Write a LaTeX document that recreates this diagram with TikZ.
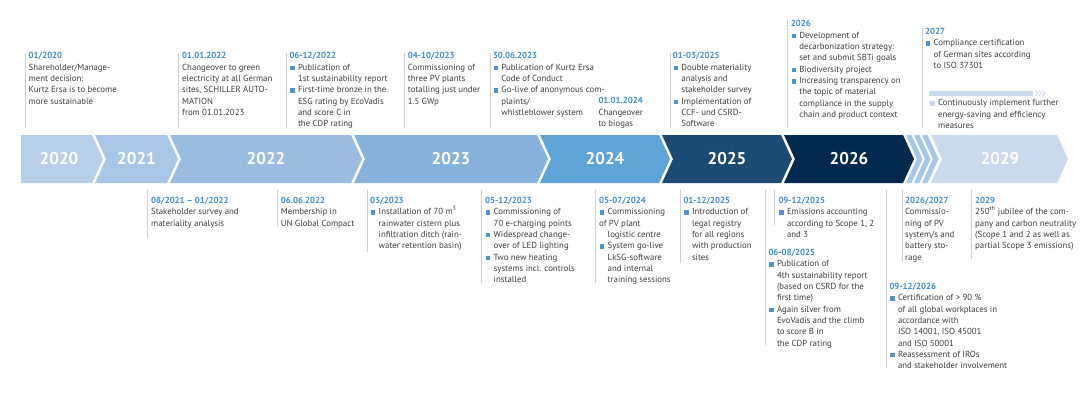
\documentclass[tikz,border=0pt]{standalone}
\usepackage{fontspec}
\setmainfont{PT Sans}
\definecolor{c2020}{HTML}{B7CFE8}
\definecolor{c2021}{HTML}{A8C6E5}
\definecolor{c2022}{HTML}{9ABDE1}
\definecolor{c2023}{HTML}{87B2DC}
\definecolor{c2024}{HTML}{5FA4D6}
\definecolor{c2025}{HTML}{1B4A73}
\definecolor{c2026}{HTML}{022A4F}
\definecolor{cstripe}{HTML}{A5C8EA}
\definecolor{c2029}{HTML}{C9DAEE}
\definecolor{datec}{HTML}{3C8ED1}
\definecolor{bodyc}{HTML}{3D3D3D}
\definecolor{bulc}{HTML}{4E93D2}
\definecolor{linec}{HTML}{CFCFCF}
\newcommand{\dt}[1]{\textcolor{datec}{\bfseries #1}}
\newcommand{\bq}{\makebox[8.5pt][l]{\hspace{0.6pt}\textcolor{bulc}{\rule{4.6pt}{4.6pt}}}}
\newcommand{\bql}{\makebox[8.5pt][l]{\hspace{0.6pt}\textcolor{c2029}{\rule{4.6pt}{4.6pt}}}}
\newcommand{\ii}{\hspace*{8.5pt}}
\tikzset{
  txt/.style={anchor=north west, align=left, inner sep=0pt, font=\fontsize{8.8}{11.33}\selectfont, text=bodyc,
    execute at begin node={\rule{0pt}{7pt}}},
  vline/.style={draw=linec, line width=0.8pt},
  yr/.style={font=\fontsize{17}{20}\selectfont\bfseries, text=white, inner sep=0pt},
}
\begin{document}
\begin{tikzpicture}[x=1pt,y=-1pt]
\useasboundingbox (0,0) rectangle (1080,405);
\fill[white] (0,0) rectangle (1080,405);

% band segments
\fill[c2020] (21,135) -- (92,135) -- (103,159) -- (92,183) -- (21,183) -- cycle;
\fill[c2021] (95,135) -- (167,135) -- (178,159) -- (167,183) -- (95,183) -- (106,159) -- cycle;
\fill[c2022] (170,135) -- (351,135) -- (362,159) -- (351,183) -- (170,183) -- (181,159) -- cycle;
\fill[c2023] (354,135) -- (537,135) -- (548,159) -- (537,183) -- (354,183) -- (365,159) -- cycle;
\fill[c2024] (540,135) -- (659,135) -- (670,159) -- (659,183) -- (540,183) -- (551,159) -- cycle;
\fill[c2025] (662,135) -- (781,135) -- (792,159) -- (781,183) -- (662,183) -- (673,159) -- cycle;
\fill[c2026] (784,135) -- (903,135) -- (914,159) -- (903,183) -- (784,183) -- (795,159) -- cycle;
\foreach \sx in {906,914,922}{
  \fill[cstripe] (\sx,135) -- ({\sx+5.5},135) -- ({\sx+16.5},159) -- ({\sx+5.5},183) -- (\sx,183) -- ({\sx+11},159) -- cycle;
}
\fill[c2029] (931,135) -- (1057,135) -- (1068,159) -- (1057,183) -- (931,183) -- (942,159) -- cycle;

\node[yr] (y2020) at (59,159) {2020};
\node[yr] (y2021) at (136.5,159) {2021};
\node[yr] (y2022) at (266,159) {2022};
\node[yr] (y2023) at (451,159) {2023};
\node[yr] (y2024) at (605,159) {2024};
\node[yr] (y2025) at (727,159) {2025};
\node[yr] (y2026) at (849,159) {2026};
\node[yr] (y2029) at (1000,159) {2029};

% top vertical lines
\draw[vline] (25.5,52.5) -- (25.5,128);
\draw[vline] (178,52.5) -- (178,128);
\draw[vline] (286,52.5) -- (286,128);
\draw[vline] (404.5,52.5) -- (404.5,128);
\draw[vline] (490,52.5) -- (490,128);
\draw[vline] (670,52.5) -- (670,128);
\draw[vline] (787.5,20) -- (787.5,128);
\draw[vline] (922,28) -- (922,128);

% bottom vertical lines
\draw[vline] (147.5,190) -- (147.5,238);
\draw[vline] (277.5,190) -- (277.5,227);
\draw[vline] (367.5,190) -- (367.5,252);
\draw[vline] (481,190) -- (481,283);
\draw[vline] (595,190) -- (595,283);
\draw[vline] (680.5,190) -- (680.5,263);
\draw[vline] (765.5,190) -- (765.5,345);
\draw[vline] (774,190) -- (774,225);
\draw[vline] (886,190) -- (886,368);
\draw[vline] (902.5,190) -- (902.5,262);
\draw[vline] (971.5,190) -- (971.5,259);

% progress bar
\fill[c2029] (929,91) rectangle (1033,95.5);
\foreach \cx in {1035.5,1039,1042.5}{
  \draw[c2029, line width=0.9pt] (\cx,90.5) -- ({\cx+2.3},93.25) -- (\cx,96);
}

% top texts (y = first baseline - 7)
\node[txt] (t2020) at (28.5,52.4) {\dt{01/2020}\\Shareholder/Manage-\\ment decision:\\Kurtz Ersa is to become\\more sustainable};
\node[txt] (t2022a) at (182,52.4) {\dt{01.01.2022}\\Changeover to green\\electricity at all German\\sites, SCHILLER AUTO-\\MATION\\from 01.01.2023};
\node[txt] (t2022b) at (289.3,52.4) {\dt{06-12/2022}\\\bq Publication of\\\ii 1st sustainability report\\\bq First-time bronze in the\\\ii ESG rating by EcoVadis\\\ii and score C in\\\ii the CDP rating};
\node[txt] (t2023a) at (407.7,52.4) {\dt{04-10/2023}\\Commissioning of\\three PV plants\\totalling just under\\1.5 GWp};
\node[txt] (t2023b) at (492.7,52.4) {\dt{30.06.2023}\\\bq Publication of Kurtz Ersa\\\ii Code of Conduct\\\bq Go-live of anonymous com-\\\ii plaints/\\\ii whistleblower system};
\node[txt] (t2024a) at (598.3,97.4) {\dt{01.01.2024}\\Changeover\\to biogas};
\node[txt] (t2025a) at (672.7,52.4) {\dt{01-03/2025}\\\bq Double materiality\\\ii analysis and\\\ii stakeholder survey\\\bq Implementation of\\\ii CCF- und CSRD-\\\ii Software};
\node[txt] (t2026a) at (790.7,20.4) {\dt{2026}\\\bq Development of\\\ii decarbonization strategy:\\\ii set and submit SBTi goals\\\bq Biodiversity project\\\bq Increasing transparency on\\\ii the topic of material\\\ii compliance in the supply\\\ii chain and product context};
\node[txt] (t2027) at (925,28) {\dt{2027}\\\bq Compliance certification\\\ii of German sites according\\\ii to ISO 37301};
\node[txt] (tcont) at (929.5,99.4) {\bql Continuously implement further\\\ii energy-saving and efficiency\\\ii measures};

% bottom texts
\node[txt] (b2021) at (151,197) {\dt{08/2021 -- 01/2022}\\Stakeholder survey and\\materiality analysis};
\node[txt] (b2022) at (280.7,197) {\dt{06.06.2022}\\Membership in\\UN Global Compact};
\node[txt] (b2023a) at (370,197) {\dt{03/2023}\\\bq Installation of 70 m\textsuperscript{3}\\\ii rainwater cistern plus\\\ii infiltration ditch (rain-\\\ii water retention basin)};
\node[txt] (b2023b) at (485,197) {\dt{05-12/2023}\\\bq Commissioning of\\\ii 70 e-charging points\\\bq Widespread change-\\\ii over of LED lighting\\\bq Two new heating\\\ii systems incl. controls\\\ii installed};
\node[txt] (b2024) at (599,197) {\dt{05-07/2024}\\\bq Commissioning\\of PV plant\\\ii logistic centre\\\bq System go-live\\\ii LkSG-software\\\ii and internal\\\ii training sessions};
\node[txt] (b2025a) at (683.3,197) {\dt{01-12/2025}\\\bq Introduction of\\\ii legal registry\\\ii for all regions\\\ii with production\\\ii sites};
\node[txt] (b2025b) at (778.3,197) {\dt{09-12/2025}\\\bq Emissions accounting\\\ii according to Scope 1, 2\\\ii and 3};
\node[txt] (b2025c) at (768.3,249) {\dt{06-08/2025}\\\bq Publication of\\\ii 4th sustainability report\\\ii (based on CSRD for the\\\ii first time)\\\bq Again silver from\\\ii EvoVadis and the climb\\\ii to score B in\\\ii the CDP rating};
\node[txt] (b2026) at (905,197) {\dt{2026/2027}\\Commissio-\\ning of PV\\system/s and\\battery sto-\\rage};
\node[txt] (b2029) at (975,197) {\dt{2029}\\250\textsuperscript{th} jubilee of the com-\\pany and carbon neutrality\\(Scope 1 and 2 as well as\\partial Scope 3 emissions)};
\node[txt] (b2026b) at (889.3,283) {\dt{09-12/2026}\\\bq Certification of > 90 \%\\\ii of all global workplaces in\\\ii accordance with\\\ii ISO 14001, ISO 45001\\\ii and ISO 50001\\\bq Reassessment of IROs\\\ii and stakeholder involvement};
\end{tikzpicture}
\end{document}
